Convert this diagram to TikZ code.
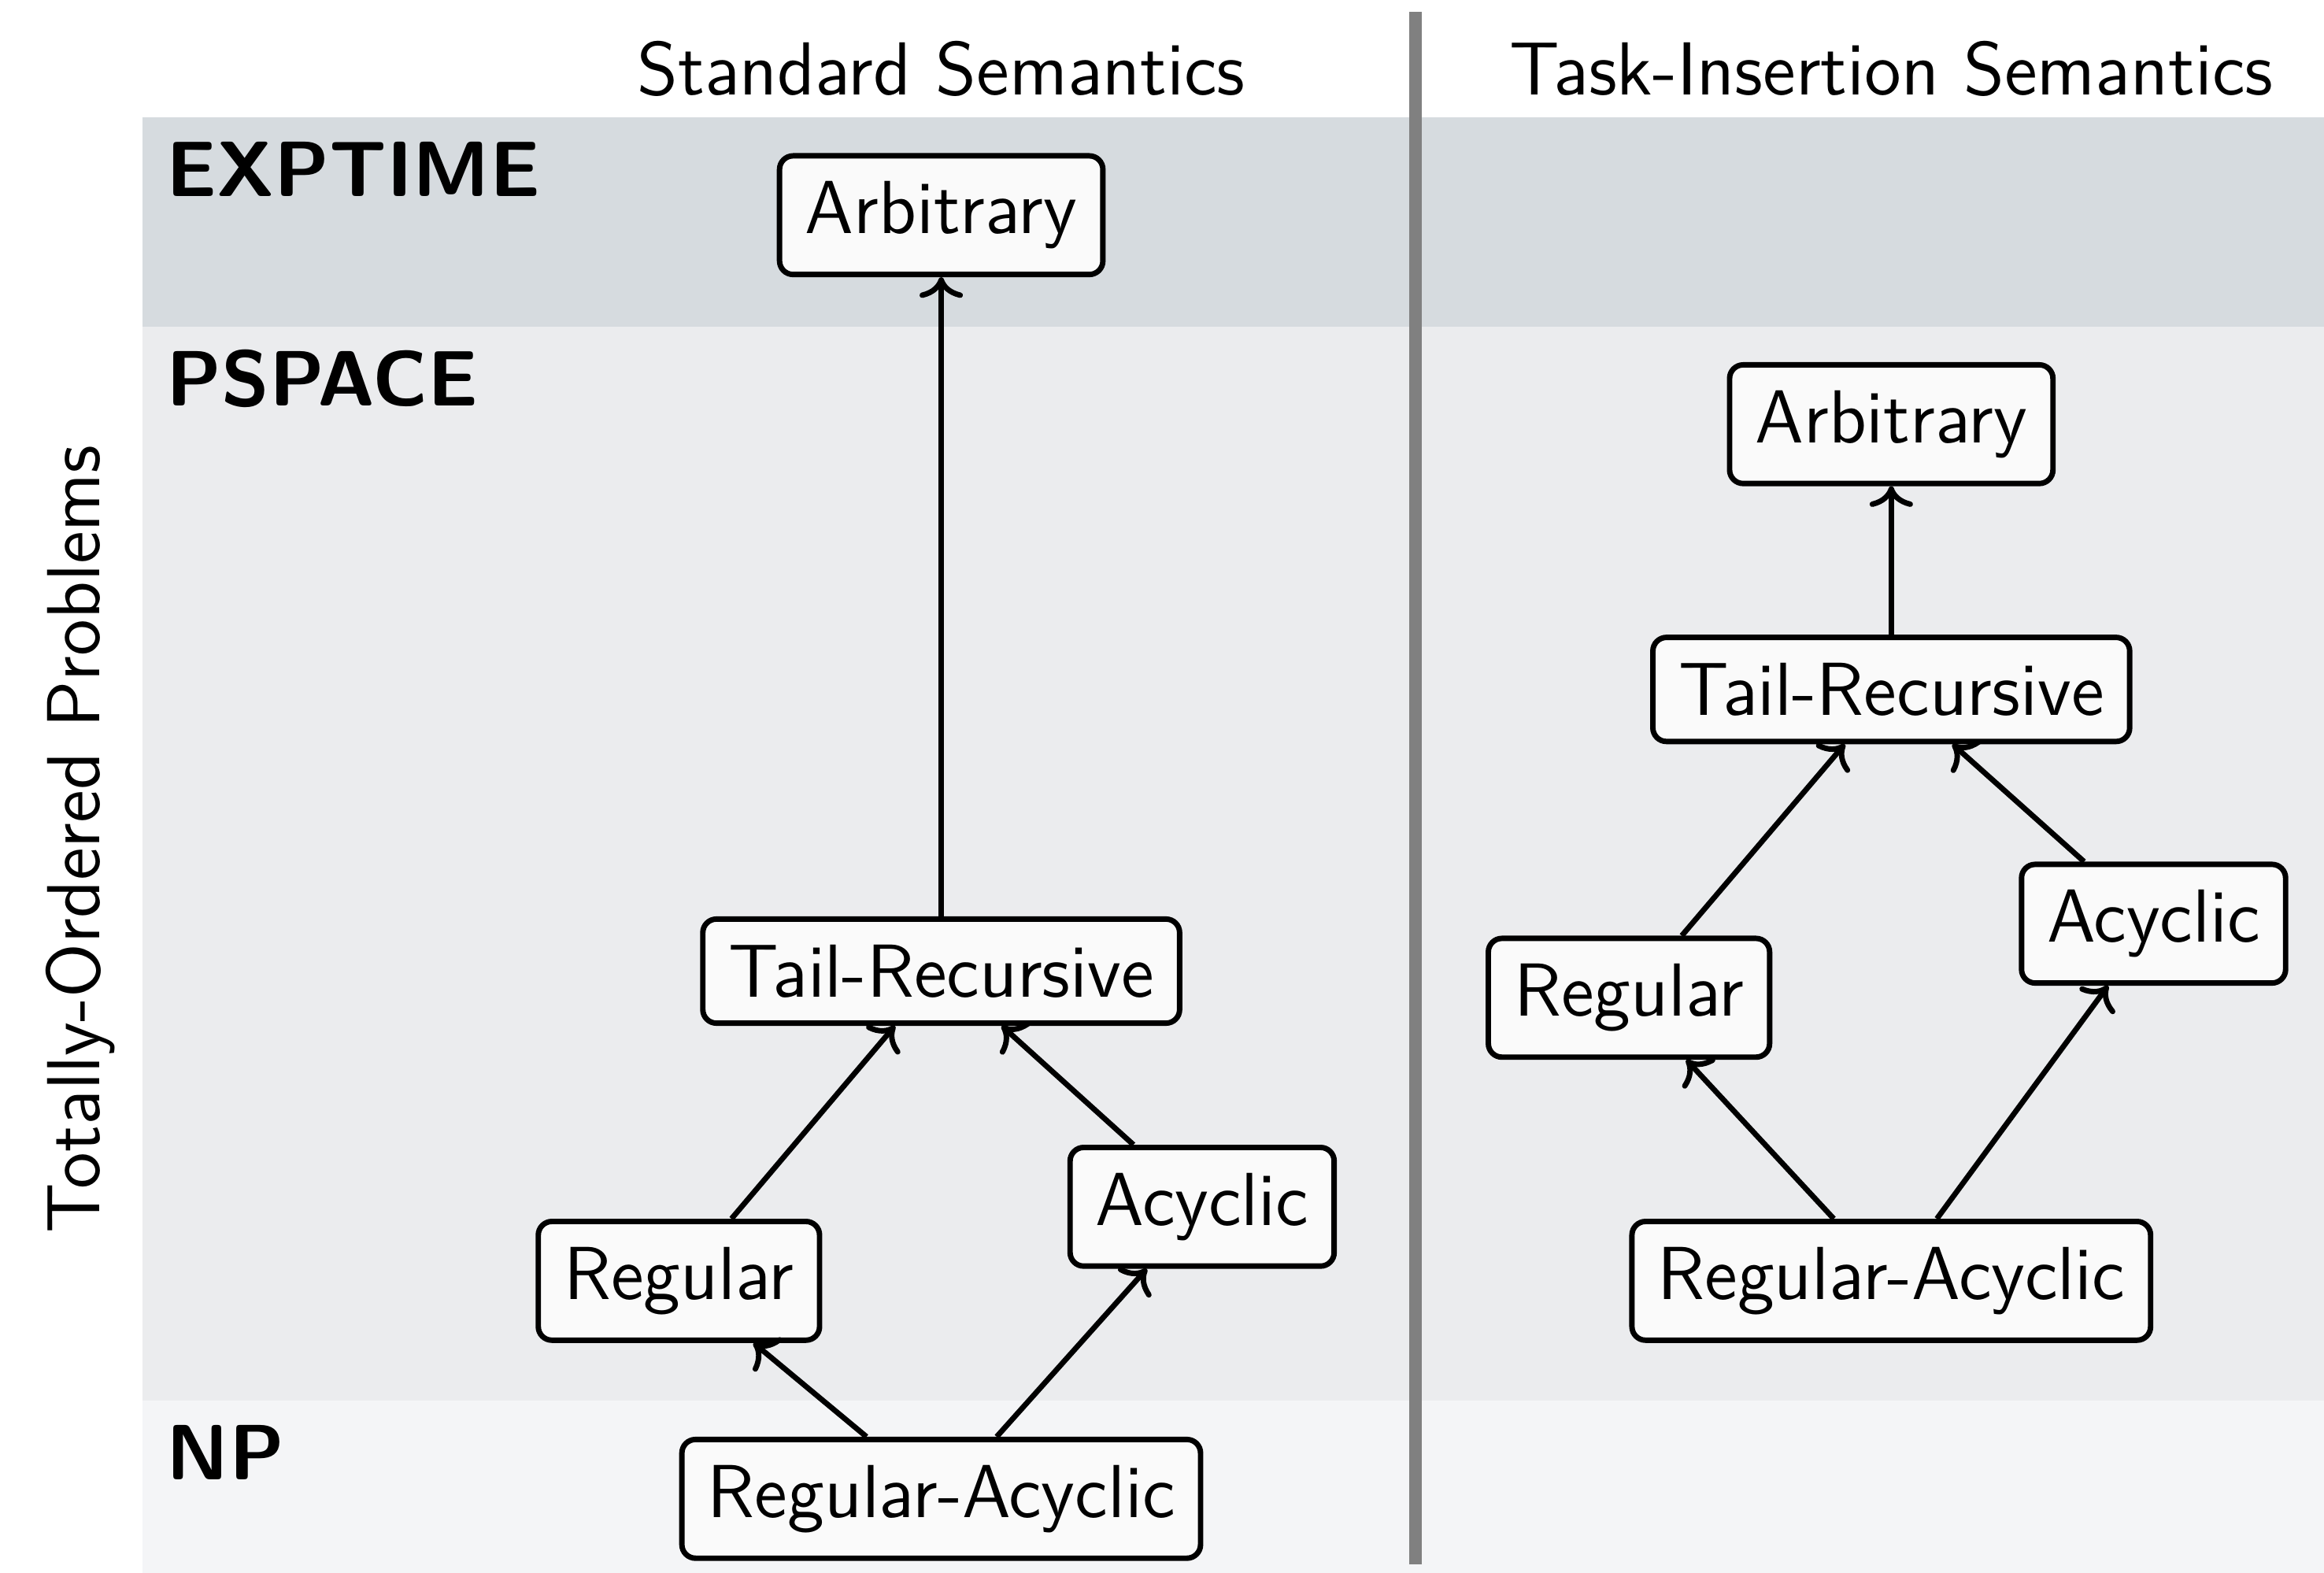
\documentclass[tikz,border=0pt]{standalone}
\usepackage{fontspec}
\usetikzlibrary{arrows.meta,positioning}
\definecolor{bandexp}{HTML}{D6DBDF}
\definecolor{bandps}{HTML}{EBECEE}
\definecolor{bandnp}{HTML}{F4F5F7}
\definecolor{boxfill}{HTML}{FAFAFA}
\newcommand{\txtsize}{\fontsize{13.8}{16}\selectfont}
\tikzset{
  cls/.style={draw, line width=1pt, fill=boxfill, rounded corners=2.5pt, inner sep=4.7pt},
  arr/.style={->, line width=1pt},
  classlbl/.style={font=\sffamily\bfseries\Large, anchor=west, inner sep=0pt},
  colhead/.style={font=\sffamily\txtsize, inner sep=0pt},
}

\begin{document}
\begin{tikzpicture}[x=1cm,y=1cm,font=\sffamily\txtsize]
  \useasboundingbox (0,0) rectangle (15,10.152);
  % complexity bands
  \fill[bandexp] (0.918,8.044) rectangle (15,9.394);
  \fill[bandps] (0.918,1.110) rectangle (15,8.044);
  \fill[bandnp] (0.918,0) rectangle (15,1.110);
  \draw[gray, line width=2.2pt] (9.136,0.057) -- (9.136,10.074);

  \node[classlbl] (lexp) at (1.07,9.06) {EXPTIME};
  \node[classlbl] (lps) at (1.07,7.71) {PSPACE};
  \node[classlbl] (lnp) at (1.07,0.775) {NP};
  \node[colhead] (hstd) at (6.075,9.71) {Standard Semantics};
  \node[colhead] (htask) at (12.207,9.71) {Task-Insertion Semantics};
  \node[colhead, rotate=90] (hside) at (0.52,4.735) {Totally-Ordered Problems};

  % standard semantics
  \node[cls] (sarb) at (6.075,8.763) {Arbitrary};
  \node[cls] (stail) at (6.075,3.884) {Tail-Recursive};
  \node[cls] (sreg) at (4.382,1.885) {Regular};
  \node[cls] (sacy) at (7.759,2.363) {Acyclic};
  \node[cls] (sra) at (6.075,0.478) {Regular-Acyclic};
  \draw[arr] (sra) -- (sreg);
  \draw[arr] (sra) -- (sacy);
  \draw[arr] (sreg) -- (stail);
  \draw[arr] (sacy) -- (stail);
  \draw[arr] (stail) -- (sarb);

  % task-insertion semantics
  \node[cls] (tarb) at (12.207,7.414) {Arbitrary};
  \node[cls] (ttail) at (12.207,5.702) {Tail-Recursive};
  \node[cls] (treg) at (10.514,3.712) {Regular};
  \node[cls] (tacy) at (13.900,4.190) {Acyclic};
  \node[cls] (tra) at (12.207,1.885) {Regular-Acyclic};
  \draw[arr] (tra) -- (treg);
  \draw[arr] (tra) -- (tacy);
  \draw[arr] (treg) -- (ttail);
  \draw[arr] (tacy) -- (ttail);
  \draw[arr] (ttail) -- (tarb);
\end{tikzpicture}
\end{document}
